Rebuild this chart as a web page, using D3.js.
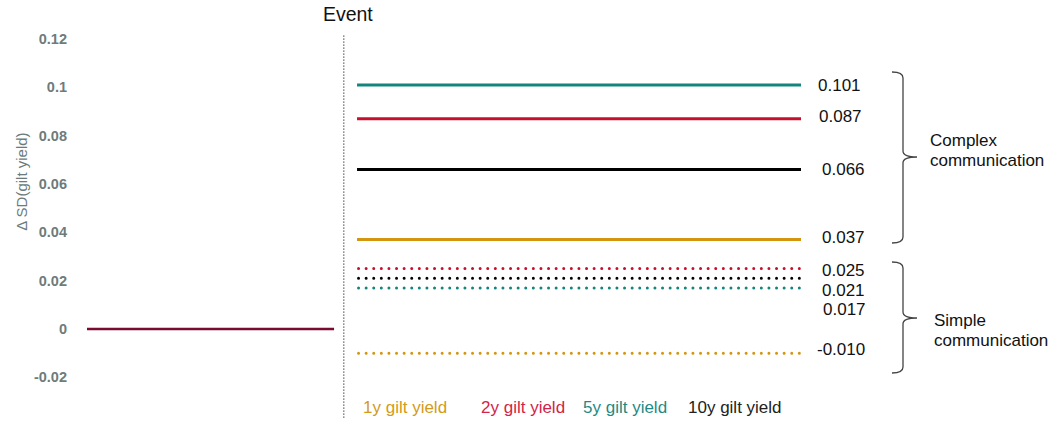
<!DOCTYPE html>
<html><head><meta charset="utf-8">
<script src="https://cdn.jsdelivr.net/npm/d3@7"></script>
<style>body{margin:0;background:#fff;} text{font-family:"Liberation Sans",Arial,sans-serif;}</style>
</head><body>
<svg id="c" width="1053" height="421"></svg>
<script>
const series = ["1y gilt yield","2y gilt yield","5y gilt yield","10y gilt yield"];
const colors = ["#d4950f","#c8102e","#12857f","#000000"];
const complexValues = [0.037,0.087,0.101,0.066];
const simpleValues = [-0.010,0.025,0.017,0.021];
const preEventValue = 0;
const yTicks = [-0.02,0,0.02,0.04,0.06,0.08,0.1,0.12];
const yTickLabels = ["-0.02","0","0.02","0.04","0.06","0.08","0.1","0.12"];
const complexLabels = ["0.101","0.087","0.066","0.037"];
const simpleLabels = ["0.025","0.021","0.017","-0.010"];

const svg = d3.select("#c");
const y = d3.scaleLinear().domain([0,0.12]).range([329,39]);
const x = d3.scaleLinear().domain([-1,1.78]).range([87,801]);

// y axis tick labels
svg.append("g").selectAll("text").data(yTicks).join("text")
  .attr("x",67).attr("y",d=>y(d)).attr("dy","0.35em").attr("text-anchor","end")
  .attr("font-size",14.5).attr("font-weight","bold").attr("fill","#6f7b7b").text((d,i)=>yTickLabels[i]);

svg.append("text").attr("transform",`translate(27,${y(0.061)}) rotate(-90)`)
  .attr("text-anchor","middle").attr("font-size",15).attr("fill","#6b7b7b").text("Δ SD(gilt yield)");

// event line
svg.append("line").attr("x1",x(0)).attr("x2",x(0)).attr("y1",y(0.1215)).attr("y2",y(-0.0368))
  .attr("stroke","#444").attr("stroke-width",1).attr("stroke-dasharray","1.5,1.5");
svg.append("text").attr("x",x(0)+4).attr("y",21).attr("text-anchor","middle").attr("font-size",19.5).attr("fill","#111").text("Event");

// pre-event
svg.append("line").attr("x1",x(-1)).attr("x2",x(-0.038)).attr("y1",y(preEventValue)).attr("y2",y(preEventValue))
  .attr("stroke","#7a0b2e").attr("stroke-width",2.5);

const x0 = x(0.0514), x1 = x(1.78);
// complex solid
svg.append("g").selectAll("line").data(complexValues).join("line")
  .attr("x1",x0).attr("x2",x1).attr("y1",d=>y(d)).attr("y2",d=>y(d))
  .attr("stroke",(d,i)=>colors[i]).attr("stroke-width",3);
// simple dotted
svg.append("g").selectAll("line").data(simpleValues).join("line")
  .attr("x1",x0+1.5).attr("x2",x1).attr("y1",d=>y(d)).attr("y2",d=>y(d))
  .attr("stroke",(d,i)=>colors[i]).attr("stroke-width",3).attr("stroke-linecap","round")
  .attr("stroke-dasharray","0,7.6");

// value labels
const complexPos = [[818,0.101],[819,0.088],[822,0.066],[822,0.038]];
svg.append("g").selectAll("text").data(complexLabels).join("text")
  .attr("x",(d,i)=>complexPos[i][0]).attr("y",(d,i)=>y(complexPos[i][1])).attr("dy","0.35em")
  .attr("font-size",17).attr("fill","#111").text(d=>d);
const simplePos = [[822,0.0245],[822,0.0162],[823,0.0083],[817,-0.0085]];
svg.append("g").selectAll("text").data(simpleLabels).join("text")
  .attr("x",(d,i)=>simplePos[i][0]).attr("y",(d,i)=>y(simplePos[i][1])).attr("dy","0.35em")
  .attr("font-size",17).attr("fill","#111").text(d=>d);

// braces
function brace(xl, top, bot, mid, tipX){
  const r=6, xr=xl+11;
  return `M${xl},${top} Q${xr},${top} ${xr},${top+r} L${xr},${mid-6} Q${xr},${mid} ${tipX},${mid} Q${xr},${mid} ${xr},${mid+6} L${xr},${bot-r} Q${xr},${bot} ${xl},${bot}`;
}
svg.append("path").attr("d",brace(892,72,243,157,917)).attr("fill","none").attr("stroke","#444").attr("stroke-width",1.3);
svg.append("path").attr("d",brace(892,262,373,318,917)).attr("fill","none").attr("stroke","#444").attr("stroke-width",1.3);

svg.append("text").attr("x",930).attr("y",146).attr("font-size",17).attr("fill","#111").text("Complex");
svg.append("text").attr("x",930).attr("y",166).attr("font-size",17).attr("fill","#111").text("communication");
svg.append("text").attr("x",934).attr("y",326).attr("font-size",17).attr("fill","#111").text("Simple");
svg.append("text").attr("x",934).attr("y",346).attr("font-size",17).attr("fill","#111").text("communication");

// legend
const legendX = [363,481,583,688];
const legendColors = ["#d49a1a","#d2244a","#1e8a85","#222"];
svg.append("g").selectAll("text").data(series).join("text")
  .attr("x",(d,i)=>legendX[i]).attr("y",413).attr("font-size",17).attr("fill",(d,i)=>legendColors[i]).text(d=>d);
</script>
</body></html>
